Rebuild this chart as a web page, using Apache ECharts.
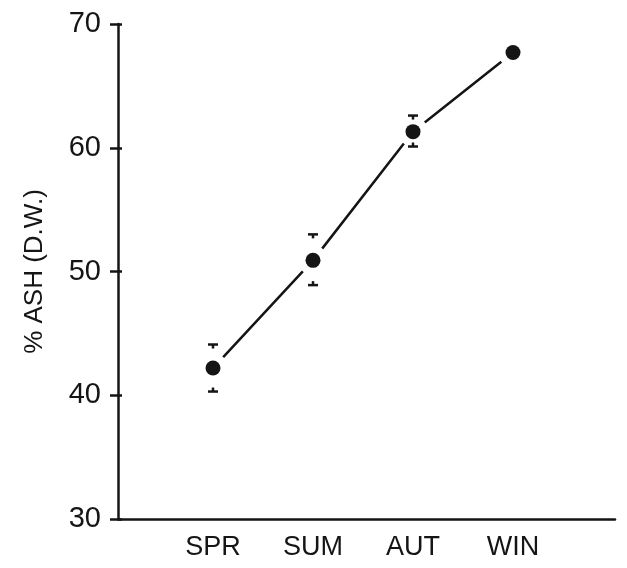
<!DOCTYPE html>
<html>
<head>
<meta charset="utf-8">
<script src="https://cdn.jsdelivr.net/npm/echarts@6/dist/echarts.min.js"></script>
<style>
html,body{margin:0;padding:0;background:#fff;}
#chart{width:627px;height:568px;}
</style>
</head>
<body>
<div id="chart"></div>
<script>
var categories = ['SPR', 'SUM', 'AUT', 'WIN'];
var positions = [1, 2, 3, 4];
var meanAsh = [42.2, 50.9, 61.3, 67.7];
var errHigh = [44.1, 53.0, 62.6, null];
var errLow = [40.3, 48.9, 60.1, null];
var yTicks = [30, 40, 50, 60, 70];

var ink = '#151515';
var font = 'Liberation Sans, Arial, sans-serif';

var lineData = positions.map(function (p, i) { return [p, meanAsh[i]]; });
var errData = positions.map(function (p, i) {
  return [p, meanAsh[i], errLow[i] == null ? meanAsh[i] : errLow[i], errHigh[i] == null ? meanAsh[i] : errHigh[i], errLow[i] == null ? 0 : 1];
});

var chart = echarts.init(document.getElementById('chart'));
chart.setOption({
  animation: false,
  backgroundColor: '#fff',
  grid: { left: 118, right: 12, top: 24, bottom: 49, containLabel: false },
  xAxis: {
    type: 'value', min: 0.05, max: 5.02,
    splitLine: { show: false },
    axisLine: { lineStyle: { color: ink, width: 2.5 } },
    axisTick: { show: false },
    axisLabel: {
      customValues: positions,
      formatter: function (v) { var i = positions.indexOf(Math.round(v)); return i >= 0 ? categories[i] : ''; },
      color: ink, fontSize: 27, fontFamily: font, margin: 15
    }
  },
  yAxis: [{
    type: 'value', min: 30, max: 70, interval: 10,
    name: '% ASH (D.W.)', nameLocation: 'middle', nameRotate: 90, nameGap: 70,
    nameTextStyle: { color: ink, fontSize: 26, fontFamily: font },
    splitLine: { show: false },
    axisLine: { lineStyle: { color: ink, width: 2.5 } },
    axisTick: { show: true, length: 8, lineStyle: { color: ink, width: 2.5 } },
    axisLabel: { color: ink, fontSize: 29, fontFamily: font, margin: 17 }
  }, {
    type: 'value', min: 30, max: 70, interval: 10, position: 'left',
    splitLine: { show: false },
    axisLine: { show: false },
    axisTick: { show: true, inside: true, length: 4, lineStyle: { color: ink, width: 2.5 } },
    axisLabel: { show: false }
  }],
  series: [{
    type: 'line',
    data: lineData,
    z: 2,
    lineStyle: { color: ink, width: 2.5 },
    symbol: 'circle',
    symbolSize: 15,
    itemStyle: { color: '#fff', borderColor: '#fff', borderWidth: 15 }
  }, {
    type: 'custom',
    z: 5,
    data: errData,
    renderItem: function (params, api) {
      var c = api.coord([api.value(0), api.value(1)]);
      var x = c[0], gap = 10, cap = 5;
      var st = { stroke: ink, lineWidth: 2.5 };
      var children = [];
      if (api.value(4)) {
        var lo = api.coord([api.value(0), api.value(2)]);
        var hi = api.coord([api.value(0), api.value(3)]);
        children.push(
          { type: 'line', shape: { x1: x, y1: hi[1], x2: x, y2: Math.min(c[1] - gap, hi[1] + 4) }, style: st },
          { type: 'line', shape: { x1: x - cap, y1: hi[1], x2: x + cap, y2: hi[1] }, style: st },
          { type: 'line', shape: { x1: x, y1: lo[1], x2: x, y2: Math.max(c[1] + gap, lo[1] - 4) }, style: st },
          { type: 'line', shape: { x1: x - cap, y1: lo[1], x2: x + cap, y2: lo[1] }, style: st }
        );
      }
      children.push({ type: 'circle', shape: { cx: x, cy: c[1], r: 7.5 }, style: { fill: ink } });
      return { type: 'group', children: children };
    }
  }]
});
</script>
</body>
</html>
